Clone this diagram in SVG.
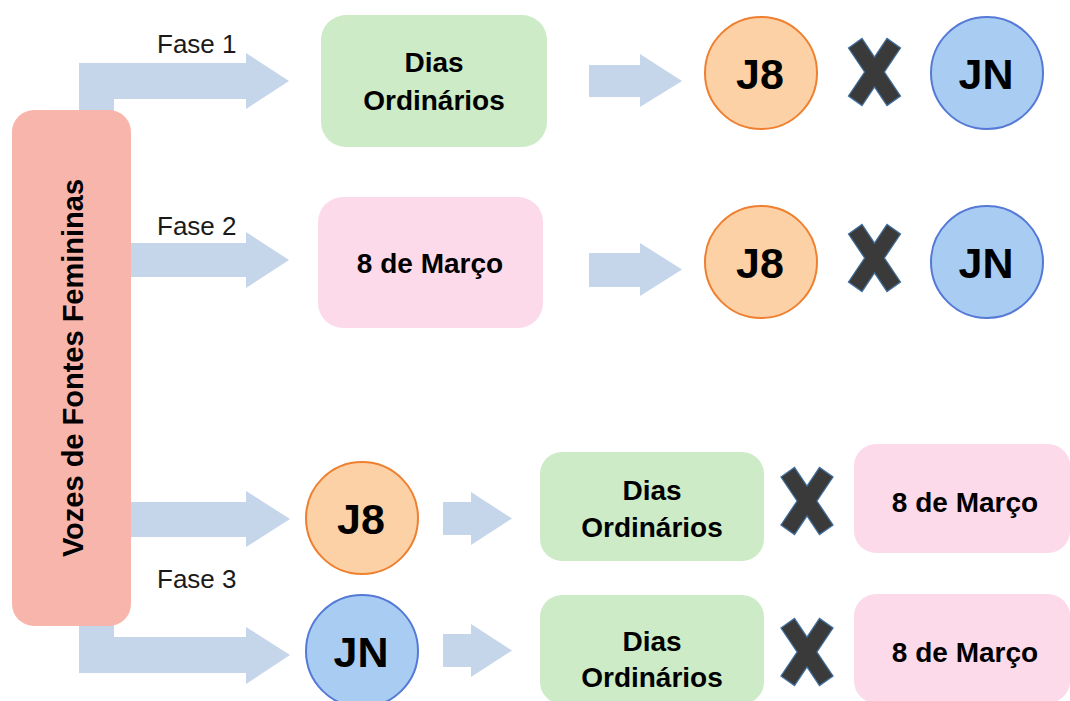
<svg xmlns="http://www.w3.org/2000/svg" width="1070" height="701" viewBox="0 0 1070 701">
  <style>
    .arrow { fill: #C5D5EA; }
    .lbl { font-family: "Liberation Sans", Arial, sans-serif; font-size: 26px; fill: #1a1a1a; }
    .bt { font-family: "Liberation Sans", Arial, sans-serif; font-weight: bold; font-size: 28px; fill: #000; text-anchor: middle; }
    .ct { font-family: "Liberation Sans", Arial, sans-serif; font-weight: bold; font-size: 43px; fill: #000; text-anchor: middle; }
    .green { fill: #CCEBC6; }
    .pink { fill: #FCDAEA; }
    .j8 { fill: #FDD1A6; stroke: #EE8030; stroke-width: 2; }
    .jn { fill: #A9CDF2; stroke: #5479D6; stroke-width: 2; }
    .x { fill: #3A3A3A; stroke: #3F6E9C; stroke-width: 1.3; }
  </style>
  <defs>
    <path id="xmark" d="M-26,-24 L-12.5,-33.5 L0,-14.8 L12.5,-33.5 L26,-24 L9.9,0 L26,24 L12.5,33.5 L0,14.8 L-12.5,33.5 L-26,24 L-9.9,0 Z"/>
  </defs>
  <rect width="1070" height="701" fill="#ffffff"/>

  <g id="connectors">
    <!-- Fase 1 bent arrow -->
    <polygon class="arrow" points="79,125 79,63 246,63 246,53 289,81 246,109 246,99 114,99 114,125"/>
    <!-- Fase 2 arrow -->
    <polygon class="arrow" points="125,243 246,243 246,232 289,260 246,288 246,277 125,277"/>
    <!-- Fase 3 to J8 -->
    <polygon class="arrow" points="125,502 246,502 246,491 290,519 246,547 246,537 125,537"/>
    <!-- Fase 3 bent to JN -->
    <polygon class="arrow" points="79,615 79,673 246,673 246,684 290,655 246,627 246,637 114,637 114,615"/>
    <!-- small arrows -->
    <polygon class="arrow" points="589,65 640,65 640,54 682,81 640,107 640,97 589,97"/>
    <polygon class="arrow" points="589,253 640,253 640,243 682,269.5 640,296 640,287 589,287"/>
    <polygon class="arrow" points="443,502 471,502 471,492 512,518.5 471,545 471,535 443,535"/>
    <polygon class="arrow" points="443,634 471,634 471,624 512,650.5 471,677 471,667 443,667"/>
    <text class="lbl" x="157" y="53">Fase 1</text>
    <text class="lbl" x="157" y="235">Fase 2</text>
    <text class="lbl" x="157" y="588">Fase 3</text>
  </g>

  <g id="vozes">
    <rect x="12" y="110" width="119" height="516" rx="22" fill="#F8B5AC"/>
    <text class="bt" font-size="29" style="font-size:29px" transform="translate(83,368) rotate(-90)" x="0" y="0">Vozes de Fontes Femininas</text>
  </g>

  <g id="dias1">
    <rect class="green" x="321" y="15" width="226" height="132" rx="25"/>
    <text class="bt" x="434" y="72">Dias</text>
    <text class="bt" x="434" y="110">Ordinários</text>
  </g>
  <g id="marco2">
    <rect class="pink" x="318" y="197" width="225" height="131" rx="25"/>
    <text class="bt" x="430" y="273">8 de Março</text>
  </g>

  <g id="j8-1"><circle class="j8" cx="761" cy="73" r="56"/><text class="ct" x="760" y="89">J8</text></g>
  <g id="x-1"><use href="#xmark" class="x" x="874.5" y="72"/></g>
  <g id="jn-1"><circle class="jn" cx="987" cy="73" r="56"/><text class="ct" x="986" y="89">JN</text></g>

  <g id="j8-2"><circle class="j8" cx="761" cy="262" r="56"/><text class="ct" x="760" y="278">J8</text></g>
  <g id="x-2"><use href="#xmark" class="x" x="874.5" y="258"/></g>
  <g id="jn-2"><circle class="jn" cx="987" cy="262" r="56"/><text class="ct" x="986" y="278">JN</text></g>

  <g id="j8-3"><circle class="j8" cx="362" cy="518" r="56"/><text class="ct" x="361" y="534">J8</text></g>
  <g id="jn-3"><circle class="jn" cx="362" cy="651" r="56"/><text class="ct" x="361" y="667">JN</text></g>

  <g id="dias3">
    <rect class="green" x="540" y="452" width="224" height="109" rx="22"/>
    <text class="bt" x="652" y="500">Dias</text>
    <text class="bt" x="652" y="537">Ordinários</text>
  </g>
  <g id="x-3"><use href="#xmark" class="x" x="807" y="501"/></g>
  <g id="marco3">
    <rect class="pink" x="854" y="444" width="216" height="109" rx="22"/>
    <text class="bt" x="965" y="512">8 de Março</text>
  </g>

  <g id="dias4">
    <rect class="green" x="540" y="595" width="224" height="109" rx="22"/>
    <text class="bt" x="652" y="651">Dias</text>
    <text class="bt" x="652" y="687">Ordinários</text>
  </g>
  <g id="x-4"><use href="#xmark" class="x" x="807" y="652"/></g>
  <g id="marco4">
    <rect class="pink" x="854" y="594" width="216" height="109" rx="22"/>
    <text class="bt" x="965" y="662">8 de Março</text>
  </g>
</svg>
